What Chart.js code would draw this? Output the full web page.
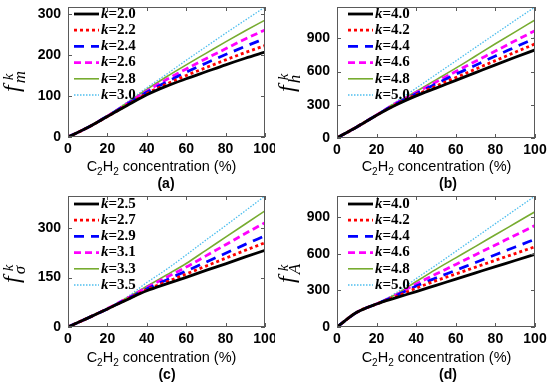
<!DOCTYPE html>
<html>
<head>
<meta charset="utf-8">
<script src="https://cdn.jsdelivr.net/npm/chart.js@4.4.1/dist/chart.umd.min.js"></script>
<style>
body { margin: 0; background: #fff; }
.p { position: absolute; width: 275px; height: 191px; }
</style>
</head>
<body>
<div class="p" style="left:0;top:0"><canvas id="ga"></canvas></div>
<div class="p" style="left:275px;top:0"><canvas id="gb"></canvas></div>
<div class="p" style="left:0;top:191px"><canvas id="gc"></canvas></div>
<div class="p" style="left:275px;top:191px"><canvas id="gd"></canvas></div>
<script>
// C2H2 concentration (%)
const conc = [0, 10, 20, 30, 40, 50, 60, 70, 80, 90, 100];

// (a) f_m^k
const kA = ['2.0', '2.2', '2.4', '2.6', '2.8', '3.0'];
const fmA = [
	[0, 23, 50, 77, 103, 124, 142, 159, 176, 192, 207],
	[0, 23, 50, 78, 106, 129, 150, 169, 188, 206, 223],
	[0, 23, 51, 80, 109, 134, 158, 180, 201, 221, 240],
	[0, 23, 51, 81, 112, 140, 166, 191, 215, 239, 261],
	[0, 23, 52, 83, 116, 147, 176, 204, 232, 259, 285],
	[0, 23, 52, 85, 120, 153, 187, 220, 253, 285, 317]
];
const yTicksA = [0, 100, 200, 300];

// (b) f_h^k
const kB = ['4.0', '4.2', '4.4', '4.6', '4.8', '5.0'];
const fhB = [
	[0, 100, 205, 300, 380, 450, 520, 590, 660, 728, 795],
	[0, 100, 205, 305, 390, 468, 545, 622, 698, 774, 849],
	[0, 100, 207, 310, 400, 488, 575, 657, 740, 820, 900],
	[0, 100, 208, 315, 410, 505, 600, 692, 785, 877, 968],
	[0, 100, 210, 320, 420, 525, 630, 740, 850, 958, 1065],
	[0, 100, 212, 330, 450, 573, 695, 818, 940, 1062, 1182]
];
const yTicksB = [0, 300, 600, 900];

// (c) f_sigma^k
const kC = ['2.5', '2.7', '2.9', '3.1', '3.3', '3.5'];
const fsC = [
	[0, 27, 55, 83, 110, 131, 151, 172, 192, 213, 233],
	[0, 27, 55, 84, 113, 137, 161, 185, 209, 233, 256],
	[0, 27, 55, 85, 116, 143, 170, 197, 224, 251, 277],
	[0, 27, 56, 87, 120, 151, 182, 216, 250, 284, 317],
	[0, 27, 56, 89, 124, 158, 193, 233, 273, 313, 353],
	[0, 27, 57, 91, 135, 175, 219, 264, 308, 353, 398]
];
const yTicksC = [0, 150, 300];

// (d) f_A^k
const kD = ['4.0', '4.2', '4.4', '4.6', '4.8', '5.0'];
const faD = [
	[0, 120, 188, 240, 290, 341, 392, 443, 494, 544, 595],
	[0, 120, 188, 250, 318, 379, 434, 490, 546, 601, 657],
	[0, 120, 189, 258, 335, 401, 464, 528, 591, 655, 718],
	[0, 120, 189, 264, 352, 433, 512, 592, 671, 751, 830],
	[0, 120, 190, 270, 372, 472, 566, 660, 755, 849, 943],
	[0, 120, 190, 282, 396, 506, 619, 732, 846, 959, 1072]
];
const yTicksD = [0, 300, 600, 900];

const xTicks = [0, 20, 40, 60, 80, 100];

const styles = [
	{ color: '#000000', width: 2.8, dash: [] },
	{ color: '#ff0000', width: 2.8, dash: [3, 3] },
	{ color: '#0000ff', width: 2.8, dash: [10, 7] },
	{ color: '#ff00ff', width: 2.8, dash: [7, 4] },
	{ color: '#77ac30', width: 1.6, dash: [] },
	{ color: '#4dbeee', width: 1.3, dash: [1.5, 1.5] }
];

const framePlugin = {
	id: 'frame',
	afterDraw(chart) {
		const o = chart.options.plugins.frame;
		const { ctx, chartArea: a, scales } = chart;
		ctx.save();
		// box + inner ticks
		ctx.strokeStyle = '#5a5a5a';
		ctx.lineWidth = 1;
		ctx.setLineDash([]);
		ctx.strokeRect(a.left + 0.5, a.top + 0.5, a.right - a.left - 1, a.bottom - a.top - 1);
		ctx.beginPath();
		scales.x.ticks.forEach(t => {
			const px = Math.round(scales.x.getPixelForValue(t.value)) + 0.5;
			ctx.moveTo(px, a.bottom); ctx.lineTo(px, a.bottom - 4);
			ctx.moveTo(px, a.top); ctx.lineTo(px, a.top + 4);
		});
		scales.y.ticks.forEach(t => {
			const py = Math.round(scales.y.getPixelForValue(t.value)) + 0.5;
			ctx.moveTo(a.left, py); ctx.lineTo(a.left + 4, py);
			ctx.moveTo(a.right, py); ctx.lineTo(a.right - 4, py);
		});
		ctx.stroke();

		// legend
		chart.data.datasets.forEach((ds, i) => {
			const y = a.top + o.legY + i * 16.2;
			const x0 = a.left + o.legX;
			ctx.strokeStyle = ds.borderColor;
			ctx.lineWidth = ds.borderWidth;
			ctx.setLineDash(ds.borderDash);
			ctx.beginPath();
			ctx.moveTo(x0, y); ctx.lineTo(x0 + 25, y);
			ctx.stroke();
			ctx.setLineDash([]);
			ctx.fillStyle = '#000';
			ctx.textBaseline = 'middle';
			ctx.textAlign = 'left';
			ctx.font = 'italic bold 15px "Liberation Serif"';
			ctx.fillText('k', x0 + 27, y);
			const w = ctx.measureText('k').width;
			ctx.font = 'bold 15px "Liberation Serif"';
			ctx.fillText('=' + o.k[i], x0 + 27 + w, y);
		});

		// x title with subscripts
		const parts = [['C', 0], ['2', 1], ['H', 0], ['2', 1], [' concentration (%)', 0]];
		const mainF = '14.5px "Liberation Sans"', subF = '10px "Liberation Sans"';
		let total = 0;
		parts.forEach(p => { ctx.font = p[1] ? subF : mainF; total += ctx.measureText(p[0]).width; });
		let x = 161.5 - total / 2;
		ctx.textBaseline = 'alphabetic';
		parts.forEach(p => {
			ctx.font = p[1] ? subF : mainF;
			ctx.fillText(p[0], x, 171 + (p[1] ? 4 : 0));
			x += ctx.measureText(p[0]).width;
		});

		// panel label
		ctx.font = 'bold 14px "Liberation Sans"';
		ctx.textAlign = 'center';
		ctx.fillText(o.label, o.labelX, 188);

		// y title: f with sub/superscript, rotated
		ctx.translate(o.yTitleX, o.yTitleY);
		ctx.rotate(-Math.PI / 2);
		ctx.textAlign = 'left';
		ctx.font = 'italic 24px "Liberation Serif"';
		ctx.fillText('f', 0, 0);
		const fw = ctx.measureText('f').width;
		ctx.font = 'italic 17px "Liberation Serif"';
		ctx.fillText(o.sub, fw + 2, 6);
		ctx.font = 'italic 15px "Liberation Serif"';
		ctx.fillText('k', fw + 5, -6);
		ctx.restore();
	}
};

function makePanel(id, k, series, yTicks, yMax, pad, extra) {
	const datasets = series.map((vals, i) => ({
		label: 'k=' + k[i],
		data: conc.map((c, j) => ({ x: c, y: vals[j] })),
		borderColor: styles[i].color,
		borderWidth: styles[i].width,
		borderDash: styles[i].dash,
		pointRadius: 0,
		cubicInterpolationMode: 'monotone',
		fill: false
	}));
	new Chart(document.getElementById(id), {
		type: 'line',
		data: { datasets: datasets },
		plugins: [framePlugin],
		options: {
			responsive: true,
			maintainAspectRatio: false,
			animation: false,
			layout: { padding: { left: 0, right: pad.right, top: pad.top, bottom: 0 } },
			plugins: {
				legend: { display: false },
				tooltip: { enabled: false },
				frame: Object.assign({ k: k }, extra)
			},
			scales: {
				x: {
					type: 'linear',
					min: 0, max: 100,
					afterBuildTicks: s => { s.ticks = xTicks.map(v => ({ value: v })); },
					afterFit: s => { s.height = pad.xh; s.paddingLeft = 0; s.paddingRight = 0; },
					grid: { display: false, drawTicks: false },
					border: { display: false },
					ticks: { color: '#000', padding: 4, maxRotation: 0, font: { family: 'Liberation Sans', size: 14, weight: 'bold' } }
				},
				y: {
					min: 0, max: yMax,
					afterBuildTicks: s => { s.ticks = yTicks.map(v => ({ value: v })); },
					afterFit: s => { s.width = pad.yw; s.paddingTop = 0; s.paddingBottom = 0; },
					grid: { display: false, drawTicks: false },
					border: { display: false },
					ticks: { color: '#000', padding: 7, font: { family: 'Liberation Sans', size: 14, weight: 'bold' } }
				}
			}
		}
	});
}

makePanel('ga', kA, fmA, yTicksA, 317, { right: 10, top: 7, xh: 54, yw: 68 },
	{ legX: 6, legY: 7, label: '(a)', labelX: 166, sub: 'm', yTitleX: 19, yTitleY: 92 });
makePanel('gb', kB, fhB, yTicksB, 1182, { right: 15, top: 7, xh: 53, yw: 62 },
	{ legX: 11, legY: 7, label: '(b)', labelX: 173, sub: 'h', yTitleX: 19, yTitleY: 92 });
makePanel('gc', kC, fsC, yTicksC, 398, { right: 10, top: 5, xh: 55, yw: 68 },
	{ legX: 6, legY: 8, label: '(c)', labelX: 167, sub: 'σ', yTitleX: 19, yTitleY: 92 });
makePanel('gd', kD, faD, yTicksD, 1072, { right: 15, top: 5, xh: 55, yw: 62 },
	{ legX: 11, legY: 8, label: '(d)', labelX: 173, sub: 'A', yTitleX: 19, yTitleY: 92 });
</script>
</body>
</html>
